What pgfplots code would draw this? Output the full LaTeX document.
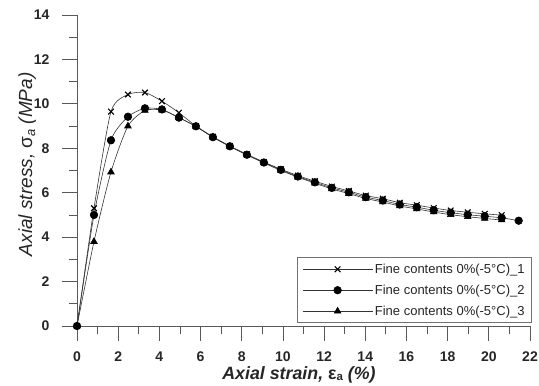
\documentclass[border=0pt]{standalone}
\usepackage{fontspec}
\setmainfont{Liberation Sans}
\usepackage{pgfplots}
\pgfplotsset{compat=1.18}
\usepackage{pgfplotstable}

% strain (%), stress (MPa) for the three specimens
\pgfplotstableread{
x       s1     s2     s3
0       0      0      0
0.825   5.30   5.00   3.80
1.65    9.65   8.36   6.93
2.475   10.42  9.42   9.00
3.3     10.51  9.80   9.70
4.125   10.12  9.75   9.72
4.95    9.60   9.38   9.38
5.775   9.00   8.99   8.98
6.6     8.52   8.50   8.50
7.425   8.10   8.09   8.08
8.25    7.73   7.71   7.70
9.075   7.38   7.36   7.34
9.9     7.06   7.03   7.00
10.725  6.77   6.73   6.70
11.55   6.52   6.47   6.43
12.375  6.28   6.22   6.17
13.2    6.08   6.02   5.96
14.025  5.87   5.80   5.74
14.85   5.73   5.65   5.58
15.675  5.55   5.47   5.40
16.5    5.44   5.35   5.27
17.325  5.31   5.21   5.13
18.15   5.20   5.10   5.01
18.975  5.12   5.01   4.92
19.8    5.05   4.94   4.84
20.625  4.99   4.87   4.77
21.45   nan    4.74   nan
}\data

\begin{document}
\begin{tikzpicture}
\begin{axis}[
  scale only axis,
  width=453pt, height=311pt,
  xmin=0, xmax=22, ymin=0, ymax=14,
  axis lines*=left,
  axis line style={black!65, line width=0.8pt},
  xtick={0,2,...,22}, ytick={0,2,...,14},
  minor xtick={1,3,...,21}, minor ytick={1,3,...,13},
  tick align=outside,
  major tick length=15pt, minor tick length=8pt,
  tick style={black!65, line width=0.8pt},
  ticklabel style={font=\fontsize{14}{14}\selectfont\bfseries, text=black!85},
  xticklabel style={inner sep=1pt},
  xticklabel shift=10pt,
  yticklabel shift=9pt,
  /pgf/number format/assume math mode=true,
  xlabel={\textbf{\textit{Axial strain,}} \textbf{ε\raisebox{-0.2ex}{\fontsize{11.5}{11.5}\selectfont a}} \textbf{\textit{(\%)}}},
  ylabel={\textit{Axial stress,} σ\raisebox{-0.3ex}{\fontsize{13}{13}\selectfont\textit{a}} \textit{(MPa)}},
  xlabel style={font=\fontsize{17.8}{17.8}\selectfont, text=black!85, inner sep=0pt,
    at={(axis description cs:0.49,0)}, anchor=base, yshift=-53pt},
  ylabel style={font=\fontsize{19}{19}\selectfont, text=black!85,
    at={(axis description cs:-0.099,0.52)}, anchor=base},
  legend style={at={(rel axis cs:1,0)}, anchor=south east, xshift=2pt, yshift=3pt,
    draw=black!55, line width=0.8pt, font=\fontsize{13}{14}\selectfont, text=black!85,
    inner xsep=5pt, inner ysep=4pt, row sep=6pt, cells={anchor=west}},
  legend image code/.code={
    \draw[mark repeat=2,mark phase=2] plot coordinates {(0pt,0pt) (35pt,0pt) (70pt,0pt)};},
  every axis plot/.append style={black!80, line width=0.6pt, smooth, tension=0.4},
]
\addplot[mark=x, mark size=4pt, mark options={line width=1.1pt, black}] table[x=x,y=s1] {\data};
\addlegendentry{Fine contents 0\%(-5\textdegree C)\_1}
\addplot[mark=*, mark size=3.8pt, mark options={fill=black, draw=black}] table[x=x,y=s2] {\data};
\addlegendentry{Fine contents 0\%(-5\textdegree C)\_2}
\addplot[mark=triangle*, mark size=3.8pt, mark options={fill=black, draw=black}] table[x=x,y=s3] {\data};
\addlegendentry{Fine contents 0\%(-5\textdegree C)\_3}
\end{axis}
\pgfresetboundingbox
\path ([xshift=-77pt,yshift=-59pt]current axis.south west)
  rectangle ([xshift=9pt,yshift=15pt]current axis.north east);
\end{tikzpicture}
\end{document}
